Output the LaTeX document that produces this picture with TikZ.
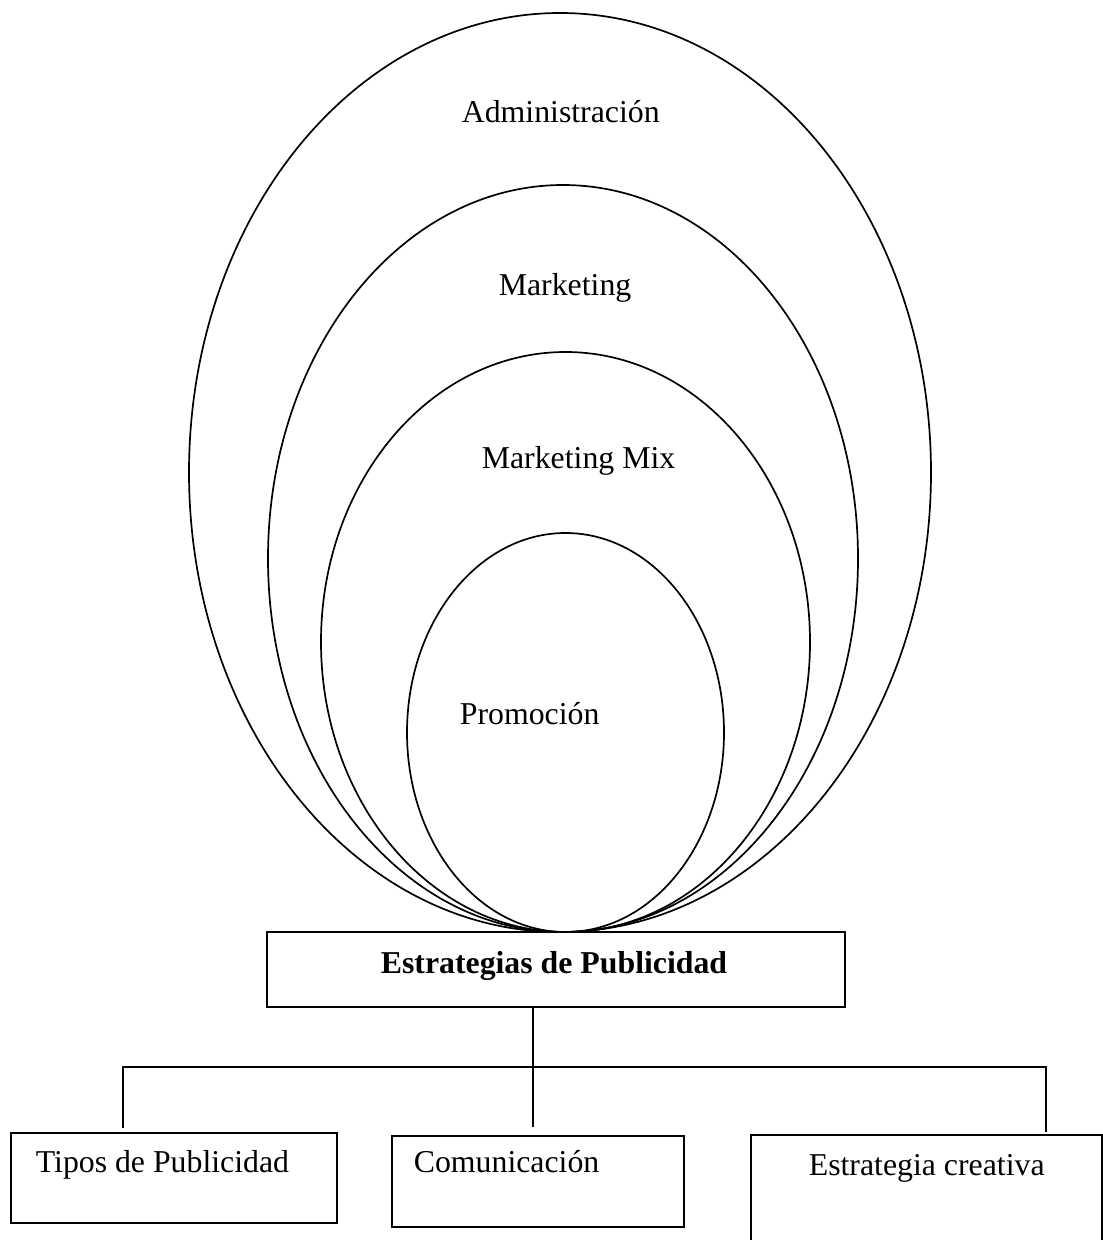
\documentclass[tikz,border=0pt]{standalone}
\usepackage{fontspec}
\setmainfont{Liberation Serif}
\usetikzlibrary{shapes.geometric}
\begin{document}
\begin{tikzpicture}[x=1pt,y=-1pt,
  line width=1.7pt,
  ring/.style={draw, ellipse, inner sep=0pt, outer sep=0pt},
  frame/.style={draw, rectangle, inner sep=0pt, outer sep=0pt, anchor=north west},
  word/.style={anchor=base west, inner sep=0pt, font=\fontsize{31.8}{38}\selectfont},
  bword/.style={word, font=\fontsize{31.8}{38}\selectfont\bfseries}]
\useasboundingbox (0,0) rectangle (1103,1240);
\clip (0,0) rectangle (1103,1240);
\fill[white] (0,0) rectangle (1103,1240);

% nested sets, all touching the box below at one point
\node[ring, minimum width=742pt, minimum height=919pt] (admin) at (560,472.5) {};
\node[ring, minimum width=590pt, minimum height=747pt] (mkt) at (563,558.5) {};
\node[ring, minimum width=489pt, minimum height=580pt] (mix) at (565.5,642) {};
\node[ring, minimum width=317pt, minimum height=399pt] (promo) at (565.5,732.5) {};

\node[word] (tadmin) at (461,122) {Administración};
\node[word] (tmkt) at (498,295) {Marketing};
\node[word] (tmix) at (481,468) {Marketing Mix};
\node[word] (tpromo) at (459,724) {Promoción};

% main box
\node[frame, minimum width=578pt, minimum height=75pt] (main) at (267,932) {};
\node[bword] (tmain) at (380,973) {Estrategias de Publicidad};

% lower boxes
\node[frame, minimum width=326pt, minimum height=90pt] (tipos) at (11,1133) {};
\node[frame, minimum width=292pt, minimum height=91pt] (comu) at (392,1136) {};
\node[frame, minimum width=351pt, minimum height=140pt] (crea) at (751,1135) {};
\node[word] (ttipos) at (35,1172) {Tipos de Publicidad};
\node[word] (tcomu) at (413,1172) {Comunicación};
\node[word] (tcrea) at (808,1175) {Estrategia creativa};

% connectors
\coordinate (hub) at (533,1067);
\coordinate (lend) at (123,1128);
\coordinate (mend) at (533,1127);
\coordinate (rend) at (1046,1132);
\draw (hub |- main.south) -- (mend);
\draw (lend) -- (lend |- hub) -- (rend |- hub) -- (rend);
\end{tikzpicture}
\end{document}
